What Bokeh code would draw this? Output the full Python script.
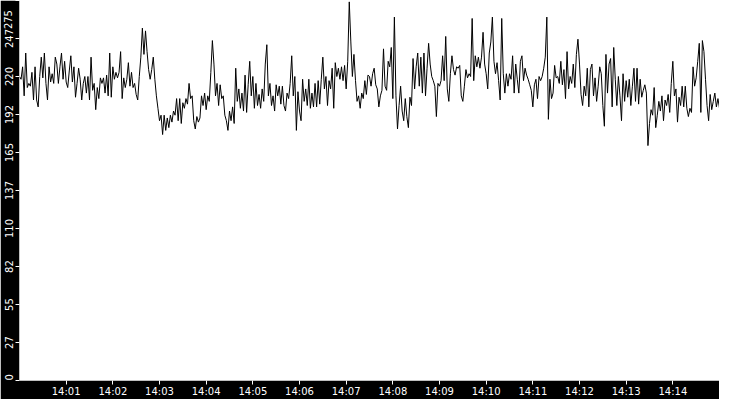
import pandas as pd
from bokeh.plotting import figure
from bokeh.models import ColumnDataSource, FixedTicker, DatetimeTickFormatter, CustomJSTickFormatter
from bokeh.embed import file_html
from bokeh.resources import INLINE

# --- readings, one every 2 s from 14:00:00 to 14:15:00 ---
start = "2024-01-01 14:00:00"
step_s = 2

load_a = [220, 218, 227, 206, 237, 212, 215, 213, 223, 203,
          227, 203, 198, 220, 234, 219, 237, 215, 203, 227,
          216, 222, 215, 234, 229, 215, 227, 237, 218, 231,
          216, 212, 224, 235, 216, 227, 205, 215, 226, 218,
          203, 215, 220, 208, 220, 203, 234, 210, 215, 196,
          212, 204, 219, 215, 219, 208, 221]
load_b = [206, 237, 205, 227, 218, 223, 219, 223, 238, 204,
          219, 212, 218, 230, 213, 223, 212, 215, 207, 203,
          220, 234, 255, 236, 253, 238, 225, 218, 225, 234,
          218, 206, 197, 188, 192, 178, 192, 181, 190, 183,
          192, 187, 195, 192, 204, 188, 204, 186, 201, 197,
          204, 200, 215, 204, 206, 188]
load_c = [182, 191, 187, 190, 206, 199, 208, 196, 206, 202,
          223, 246, 229, 206, 215, 199, 214, 204, 206, 192,
          188, 181, 195, 188, 198, 186, 226, 202, 211, 197,
          208, 195, 221, 194, 214, 231, 206, 220, 197, 215,
          199, 207, 197, 211, 202, 229, 243, 206, 215, 199,
          206, 195, 214, 206, 213, 200]
load_d = [213, 199, 195, 208, 204, 215, 235, 206, 220, 181,
          209, 195, 188, 218, 202, 211, 199, 218, 197, 208,
          198, 215, 198, 217, 200, 218, 234, 211, 220, 199,
          217, 211, 226, 197, 230, 220, 226, 218, 227, 217,
          228, 211, 231, 274, 245, 220, 236, 217, 202, 206,
          197, 208, 204, 217, 207, 221]
load_e = [220, 213, 222, 226, 214, 211, 198, 206, 210, 240,
          213, 210, 231, 227, 241, 204, 263, 206, 182, 199,
          213, 195, 188, 204, 191, 183, 205, 199, 233, 211,
          227, 237, 213, 234, 208, 237, 206, 226, 244, 229,
          220, 217, 213, 191, 215, 213, 217, 235, 217, 249,
          211, 202, 222, 235, 225, 221, 227]
load_f = [226, 228, 206, 202, 213, 225, 219, 222, 220, 262,
          217, 235, 227, 234, 226, 234, 252, 229, 222, 211,
          237, 245, 263, 231, 222, 230, 217, 203, 262, 222,
          208, 222, 213, 222, 218, 235, 208, 229, 218, 208,
          231, 235, 217, 226, 221, 218, 214, 210, 198, 214,
          218, 204, 220, 217, 220, 226]
load_g = [234, 263, 189, 218, 204, 208, 228, 219, 220, 215,
          231, 214, 225, 204, 238, 211, 220, 215, 229, 212,
          236, 247, 229, 207, 199, 213, 206, 226, 198, 225,
          229, 206, 219, 202, 213, 227, 222, 199, 184, 236,
          208, 229, 233, 198, 241, 218, 199, 220, 206, 188,
          222, 202, 217, 205, 218, 199]
load_h = [213, 226, 202, 226, 200, 218, 205, 210, 214, 208,
          170, 186, 196, 192, 212, 183, 192, 202, 195, 206,
          188, 203, 199, 207, 194, 215, 231, 206, 211, 187,
          205, 199, 213, 198, 213, 197, 191, 197, 194, 227,
          213, 219, 231, 244, 194, 246, 238, 218, 199, 188,
          207, 196, 202, 208, 198, 204, 197]

y_ticks = [0, 27.5, 55, 82.5, 110, 137.5, 165, 192.5, 220, 247.5, 275]
x_tick_times = ["14:01", "14:02", "14:03", "14:04", "14:05", "14:06", "14:07",
                "14:08", "14:09", "14:10", "14:11", "14:12", "14:13", "14:14"]

values = load_a + load_b + load_c + load_d + load_e + load_f + load_g + load_h
t0 = pd.Timestamp(start)
times = pd.date_range(t0, periods=len(values), freq=f"{step_s}s")
t1 = t0 + pd.Timedelta(minutes=15)
y_min, y_max = y_ticks[0], y_ticks[-1]

source = ColumnDataSource(dict(t=times, v=values))

p = figure(
    width=719, height=399,
    x_axis_type="datetime",
    x_range=(t0, t1), y_range=(y_min, y_max),
    toolbar_location=None,
    output_backend="svg",
    background_fill_color="white",
    border_fill_color="black",
    min_border=0,
)
p.outline_line_color = None
p.grid.grid_line_color = None

p.line(x="t", y="v", source=source, line_color="black", line_width=1)

# --- axes: white on black ---
day = t0.strftime("%Y-%m-%d")
p.xaxis.ticker = FixedTicker(ticks=[pd.Timestamp(f"{day} {s}").value / 1e6 for s in x_tick_times])
p.xaxis.formatter = DatetimeTickFormatter(minutes="%H:%M", hours="%H:%M", minsec="%H:%M",
                                          seconds="%H:%M", days="%H:%M")
p.yaxis.ticker = FixedTicker(ticks=y_ticks)
# labels read upward; pad the end ones with nbsp so they sit inside the frame
p.yaxis.formatter = CustomJSTickFormatter(
    args=dict(lo=y_min, hi=y_max),
    code="""
    const s = String(Math.floor(tick));
    if (tick >= hi) return s + '\\u00a0'.repeat(3);
    if (tick <= lo) return '\\u00a0'.repeat(2) + s;
    return s;
    """)
p.yaxis.major_label_orientation = "vertical"

for ax in (p.xaxis, p.yaxis):
    ax.axis_line_color = None
    ax.major_tick_line_color = "white"
    ax.major_tick_in = 0
    ax.major_tick_out = 4
    ax.minor_tick_line_color = None
    ax.major_label_standoff = 1
    ax.major_label_text_color = "white"
    ax.major_label_text_font = "DejaVu Sans"
    ax.major_label_text_font_size = "10px"

open("out.html", "w").write(file_html(p, INLINE))
